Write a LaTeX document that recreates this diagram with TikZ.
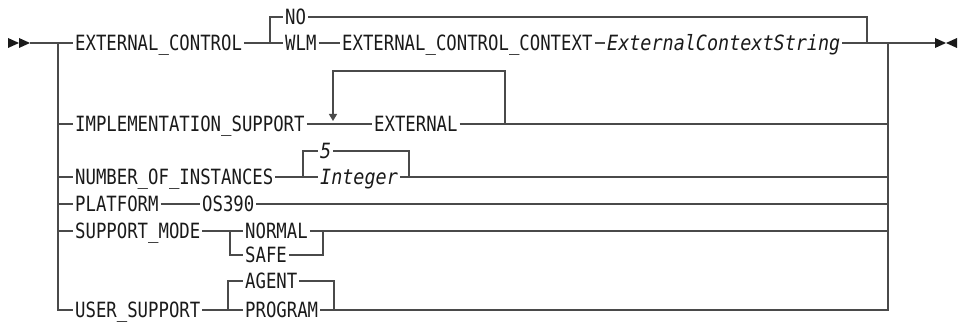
\documentclass[tikz,border=0pt]{standalone}
\usepackage{fontspec}
\setmainfont{DejaVu Sans Mono}[FakeStretch=0.825, ItalicFeatures={FakeStretch=0.878}]
\usetikzlibrary{arrows.meta}
\definecolor{ink}{HTML}{1A1A1A}
\definecolor{rail}{HTML}{4A4A4A}
\tikzset{
  every picture/.style={line width=1.3pt, font=\fontsize{21}{25}\selectfont},
  kw/.style={anchor=west, inner xsep=1.5pt, inner ysep=0pt, text height=15.3pt, text depth=0pt, text=ink},
  var/.style={kw, font=\fontsize{21}{25}\selectfont\itshape},
  track/.style={draw=rail},
}
\begin{document}
\begin{tikzpicture}[x=1pt, y=-1pt]
\useasboundingbox (0,0) rectangle (964,323);
% entry and exit marks
\fill[ink] (8,38) -- (19,43) -- (8,48) -- cycle;
\fill[ink] (19,38) -- (30,43) -- (19,48) -- cycle;
\fill[ink] (935,38) -- (946,43) -- (935,48) -- cycle;
\fill[ink] (957,38) -- (946,43) -- (957,48) -- cycle;
\coordinate (in) at (30,43);
\coordinate (out) at (935,43);
\coordinate (split) at (58,43);
\coordinate (join) at (888,43);
% keywords and variables
\node[kw] (ec) at (73,43) {EXTERNAL\_CONTROL};
\node[kw] (no) at (283,17) {NO};
\node[kw] (wlm) at (283,43) {WLM};
\node[kw] (ecc) at (340,43) {EXTERNAL\_CONTROL\_CONTEXT};
\node[var] (ecs) at (605,43) {ExternalContextString};
\node[kw] (impl) at (73,124) {IMPLEMENTATION\_SUPPORT};
\node[kw] (ext) at (372,124) {EXTERNAL};
\node[kw] (num) at (73,177) {NUMBER\_OF\_INSTANCES};
\node[var] (five) at (318,151) {5};
\node[var] (int) at (318,177) {Integer};
\node[kw] (plat) at (73,204) {PLATFORM};
\node[kw] (os) at (200,204) {OS390};
\node[kw] (mode) at (73,231) {SUPPORT\_MODE};
\node[kw] (normal) at (243,231) {NORMAL};
\node[kw] (safe) at (243,255) {SAFE};
\node[kw] (user) at (73,310) {USER\_SUPPORT};
\node[kw] (agent) at (243,281) {AGENT};
\node[kw] (prog) at (243,310) {PROGRAM};
% main rail and left stack
\draw[track] (in) -- (ec);
\draw[track] (split) |- (user);
\foreach \n in {impl,num,plat,mode} \draw[track] (split |- \n) -- (\n);
% EXTERNAL_CONTROL
\coordinate (c1) at (270,43);
\coordinate (c2) at (867,43);
\draw[track] (ec) -- (wlm);
\draw[track] (c1) |- (no);
\draw[track] (no) -| (c2);
\draw[track] (wlm) -- (ecc);
\draw[track] (ecc) -- (ecs);
\draw[track] (ecs) -- (out);
% IMPLEMENTATION_SUPPORT with repeat
\coordinate (r1) at (505,124);
\coordinate (r2) at (333,121);
\draw[track] (impl) -- (ext);
\draw[track] (ext) -| (join);
\draw[track, -{Triangle[length=7pt,width=8pt]}] (r1) -- ++(0,-53) -| (r2);
% NUMBER_OF_INSTANCES
\coordinate (n1) at (303,177);
\coordinate (n2) at (409,177);
\draw[track] (num) -- (int);
\draw[track] (n1) |- (five);
\draw[track] (five) -| (n2);
\draw[track] (int) -| (join);
% PLATFORM
\draw[track] (plat) -- (os);
\draw[track] (os) -| (join);
% SUPPORT_MODE
\coordinate (m1) at (230,231);
\coordinate (m2) at (323,231);
\draw[track] (mode) -- (normal);
\draw[track] (m1) |- (safe);
\draw[track] (safe) -| (m2);
\draw[track] (normal) -| (join);
% USER_SUPPORT
\coordinate (u1) at (228,310);
\coordinate (u2) at (334,310);
\draw[track] (user) -- (prog);
\draw[track] (u1) |- (agent);
\draw[track] (agent) -| (u2);
\draw[track] (prog) -| (join);
\end{tikzpicture}
\end{document}
